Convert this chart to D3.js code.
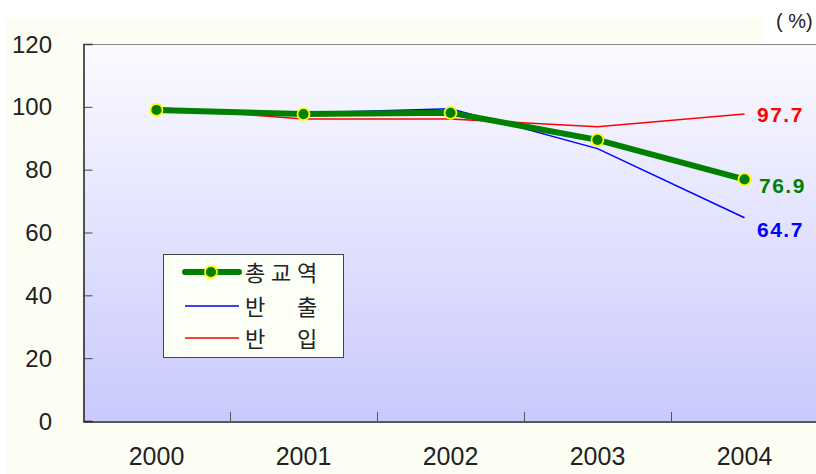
<!DOCTYPE html>
<html>
<head>
<meta charset="utf-8">
<script src="https://cdn.jsdelivr.net/npm/d3@7"></script>
<style>
    html, body { margin: 0; padding: 0; background: #ffffff; }
    svg { display: block; }
</style>
</head>
<body>
<script>
(function () {
    'use strict';

    var years = ['2000', '2001', '2002', '2003', '2004'];
    var yTicks = [0, 20, 40, 60, 80, 100, 120];
    var totalTrade = [99.0, 97.7, 98.1, 89.5, 76.9];
    var exportsOut = [98.4, 98.0, 99.4, 86.7, 64.7];
    var importsIn = [99.8, 96.1, 96.1, 93.7, 97.7];
    var seriesNames = ['총교역', '반출', '반입'];

    var width = 816, height = 474;
    var plot = { left: 83, top: 44, right: 818, bottom: 421 };

    var svg = d3.select('body').append('svg')
        .attr('width', width)
        .attr('height', height);

    var defs = svg.append('defs');
    var grad = defs.append('linearGradient')
        .attr('id', 'plotBg')
        .attr('x1', 0).attr('y1', 0).attr('x2', 0).attr('y2', 1);
    grad.append('stop').attr('offset', '0%').attr('stop-color', '#fbfbff');
    grad.append('stop').attr('offset', '100%').attr('stop-color', '#c9c9fd');

    // outer tinted frame, white corner behind the unit label
    svg.append('rect')
        .attr('x', 6).attr('y', 18)
        .attr('width', width - 6).attr('height', height - 18)
        .attr('fill', '#fcfef4');
    svg.append('rect')
        .attr('x', 763).attr('y', 0)
        .attr('width', width - 763).attr('height', plot.top)
        .attr('fill', '#ffffff');

    var x = d3.scaleBand()
        .domain(years)
        .range([plot.left, plot.right]);

    var y = d3.scaleLinear()
        .domain([0, 120])
        .range([plot.bottom, plot.top]);

    svg.append('rect')
        .attr('x', plot.left).attr('y', plot.top)
        .attr('width', plot.right - plot.left)
        .attr('height', plot.bottom - plot.top)
        .attr('fill', 'url(#plotBg)');

    // top border
    svg.append('line')
        .attr('x1', plot.left).attr('x2', width)
        .attr('y1', plot.top + 0.5).attr('y2', plot.top + 0.5)
        .attr('stroke', '#8a8a8a').attr('stroke-width', 1);

    // y axis
    var yAxis = d3.axisRight(y).tickValues(yTicks).tickSize(9).tickFormat('');
    var gy = svg.append('g')
        .attr('transform', 'translate(' + (plot.left + 0.5) + ',0)')
        .call(yAxis);
    gy.select('.domain').attr('stroke', '#222').attr('stroke-width', 1.5);
    gy.selectAll('.tick line').attr('stroke', '#444');

    svg.append('g').selectAll('text')
        .data(yTicks)
        .join('text')
        .attr('x', 52)
        .attr('y', function (d) { return y(d) + 8.5; })
        .attr('text-anchor', 'end')
        .attr('font-family', 'Liberation Sans, Arial, sans-serif')
        .attr('font-size', 24)
        .attr('fill', '#222')
        .text(function (d) { return d; });

    // x axis with ticks between categories
    var xAxis = d3.axisTop(x).tickSize(0).tickFormat('');
    var gx = svg.append('g')
        .attr('transform', 'translate(0,' + (plot.bottom + 0.5) + ')')
        .call(xAxis);
    gx.select('.domain').attr('stroke', '#222').attr('stroke-width', 1.5);

    svg.append('g').selectAll('line')
        .data(years.slice(1))
        .join('line')
        .attr('x1', function (d) { return Math.round(x(d)) + 0.5; })
        .attr('x2', function (d) { return Math.round(x(d)) + 0.5; })
        .attr('y1', plot.bottom - 9)
        .attr('y2', plot.bottom)
        .attr('stroke', '#555');

    svg.append('g').selectAll('text')
        .data(years)
        .join('text')
        .attr('x', function (d) { return x(d) + x.bandwidth() / 2; })
        .attr('y', 465)
        .attr('text-anchor', 'middle')
        .attr('font-family', 'Liberation Sans, Arial, sans-serif')
        .attr('font-size', 25)
        .attr('fill', '#222')
        .text(function (d) { return d; });

    var line = d3.line()
        .x(function (d, i) { return x(years[i]) + x.bandwidth() / 2; })
        .y(function (d) { return y(d); });

    svg.append('path')
        .datum(importsIn)
        .attr('d', line)
        .attr('fill', 'none')
        .attr('stroke', '#ff0000')
        .attr('stroke-width', 1.5);

    svg.append('path')
        .datum(exportsOut)
        .attr('d', line)
        .attr('fill', 'none')
        .attr('stroke', '#0000ff')
        .attr('stroke-width', 1.5);

    svg.append('path')
        .datum(totalTrade)
        .attr('d', line)
        .attr('fill', 'none')
        .attr('stroke', '#008000')
        .attr('stroke-width', 6);

    svg.append('g').selectAll('circle')
        .data(totalTrade)
        .join('circle')
        .attr('cx', function (d, i) { return x(years[i]) + x.bandwidth() / 2; })
        .attr('cy', function (d) { return y(d); })
        .attr('r', 6)
        .attr('fill', '#008000')
        .attr('stroke', '#ffff00')
        .attr('stroke-width', 1.8);

    // end labels
    var last = years.length - 1;
    var endLabels = [
        { v: importsIn[last], c: '#ff0000', dx: 757, dy: 8 },
        { v: totalTrade[last], c: '#008000', dx: 759, dy: 13.5 },
        { v: exportsOut[last], c: '#0000ff', dx: 757, dy: 19 }
    ];
    svg.append('g').selectAll('text')
        .data(endLabels)
        .join('text')
        .attr('x', function (d) { return d.dx; })
        .attr('y', function (d) { return y(d.v) + d.dy; })
        .attr('font-family', 'Liberation Sans, Arial, sans-serif')
        .attr('font-weight', 'bold')
        .attr('font-size', 21)
        .attr('letter-spacing', 1.5)
        .attr('fill', function (d) { return d.c; })
        .text(function (d) { return d.v.toFixed(1); });

    svg.append('text')
        .attr('x', 776).attr('y', 28)
        .attr('font-family', 'Liberation Sans, Arial, sans-serif')
        .attr('font-size', 20)
        .attr('fill', '#222')
        .text('( %)');

    // legend
    var lg = svg.append('g').attr('transform', 'translate(163,254)');
    lg.append('rect')
        .attr('x', 0.5).attr('y', 0.5)
        .attr('width', 180).attr('height', 103)
        .attr('fill', '#fbfff6')
        .attr('stroke', '#444');

    var legendItems = [
        { name: seriesNames[0], c: '#008000', w: 6, marker: true, ty: 18, chars: ['총', '교', '역'] },
        { name: seriesNames[1], c: '#0000ff', w: 1.5, marker: false, ty: 52, chars: ['반', '', '출'] },
        { name: seriesNames[2], c: '#ff0000', w: 1.5, marker: false, ty: 84, chars: ['반', '', '입'] }
    ];
    legendItems.forEach(function (it) {
        lg.append('line')
            .attr('x1', 22).attr('x2', 76)
            .attr('y1', it.ty).attr('y2', it.ty)
            .attr('stroke', it.c)
            .attr('stroke-width', it.w)
            .attr('stroke-linecap', it.marker ? 'round' : 'butt');
        if (it.marker) {
            lg.append('circle')
                .attr('cx', 48).attr('cy', it.ty).attr('r', 6)
                .attr('fill', '#008000')
                .attr('stroke', '#ffff00')
                .attr('stroke-width', 1.8);
        }
        it.chars.forEach(function (ch, k) {
            lg.append('text')
                .attr('x', 92 + k * 26)
                .attr('y', it.ty + 9)
                .attr('text-anchor', 'middle')
                .attr('font-family', 'Noto Sans CJK KR, sans-serif')
                .attr('font-size', 22)
                .attr('fill', '#222')
                .text(ch);
        });
    });
})();
</script>
</body>
</html>
